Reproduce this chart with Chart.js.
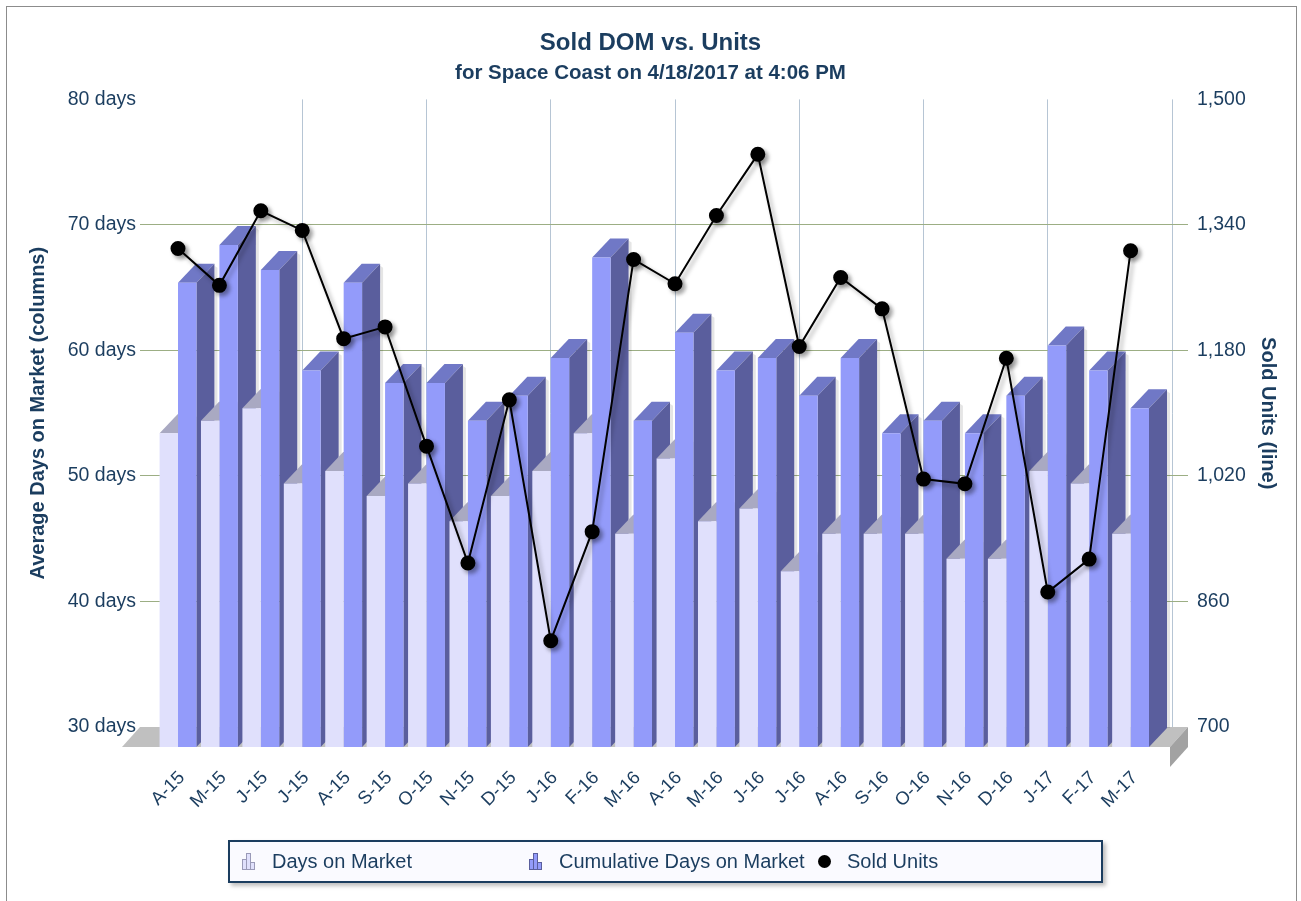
<!DOCTYPE html>
<html>
<head>
<meta charset="utf-8">
<title>Sold DOM vs. Units</title>
<script src="https://cdn.jsdelivr.net/npm/chart.js@4.4.1/dist/chart.umd.min.js"></script>
<style>
    body { margin: 0; background: #fff; font-family: "Liberation Sans", Arial, sans-serif; }
    #wrap { position: relative; width: 1301px; height: 901px; overflow: hidden; }
    #frame { position: absolute; left: 6px; top: 6px; width: 1289px; height: 920px; border: 1px solid #8c8c8c; }
    #chart { position: absolute; left: 0; top: 0; }
    #legend {
        position: absolute; left: 228px; top: 840px; width: 871px; height: 39px;
        border: 2px solid #1b3d5f; background: #fafaff;
        box-shadow: 3px 3px 4px rgba(0, 0, 0, 0.25);
    }
    .item { position: absolute; top: 0; height: 39px; line-height: 39px; font-size: 20px; color: #1b3d5f; white-space: nowrap; }
    .ico { display: inline-flex; align-items: flex-end; gap: 1px; height: 16px; vertical-align: -1px; }
    .ico i { display: block; width: 3px; }
    .dot { display: inline-block; width: 13px; height: 13px; border-radius: 50%; background: #000; vertical-align: 0; }
</style>
</head>
<body>
<div id="wrap">
    <div id="frame"></div>
    <canvas id="chart" width="1301" height="901"></canvas>
    <div id="legend"></div>
</div>
<script>
const categories = ['A-15', 'M-15', 'J-15', 'J-15', 'A-15', 'S-15', 'O-15', 'N-15', 'D-15', 'J-16', 'F-16', 'M-16',
    'A-16', 'M-16', 'J-16', 'J-16', 'A-16', 'S-16', 'O-16', 'N-16', 'D-16', 'J-17', 'F-17', 'M-17']
const daysOnMarket = [55, 56, 57, 51, 52, 50, 51, 48, 50, 52, 55, 47, 53, 48, 49, 44, 47, 47, 47, 45, 45, 52, 51, 47]
const cumulativeDays = [67, 70, 68, 60, 67, 59, 59, 56, 58, 61, 69, 56, 63, 60, 61, 58, 61, 55, 56, 55, 58, 62, 60, 57]
const soldUnits = [1310, 1263, 1358, 1333, 1195, 1210, 1058, 909, 1117, 810, 949, 1296, 1265, 1352, 1430, 1185,
    1273, 1233, 1016, 1010, 1170, 872, 914, 1307]

const daysAxis = { min: 30, max: 80, step: 10 }
const unitsAxis = { min: 700, max: 1500, step: 160 }

const NAVY = '#1b3d5f'
const GRID_H = '#9cae84'
const GRID_V = '#b6c5d4'
const FRONT = ['#e0e0fc', '#939bfa']
const TOP = ['#a9a9c2', '#7078c6']
const SIDE = ['#9d9db8', '#5a5e9d']
const BORDER = ['#9a9ab8', '#5a5e9d']

// 3d look: bars are drawn by chart.js as front faces, this adds the depth
const DEPTH_X = 18
const DEPTH_Y = 19
const FRONT_SHIFT = 1.6 // days, front plane sits ~20px below the back wall

function poly(ctx, pts) {
    ctx.beginPath()
    ctx.moveTo(pts[0][0], pts[0][1])
    for (let i = 1; i < pts.length; i++) ctx.lineTo(pts[i][0], pts[i][1])
    ctx.closePath()
    ctx.fill()
}

const depthPlugin = {
    id: 'depth',
    beforeDatasetsDraw(chart) {
        const ctx = chart.ctx
        const area = chart.chartArea
        const back = chart.scales.y.getPixelForValue(daysAxis.min)
        const front = chart.scales.yb.getPixelForValue(daysAxis.min)
        const left = area.left - 38
        const right = area.right + 16
        ctx.save()
        // floor
        ctx.fillStyle = '#c0c0c0'
        poly(ctx, [[left, back], [right, back], [right - DEPTH_X, front], [left - DEPTH_X, front]])
        ctx.fillStyle = '#a2a2a2'
        poly(ctx, [[right - DEPTH_X, front], [right, back], [right, back + 20], [right - DEPTH_X, front + 20]])

        const metas = [chart.getDatasetMeta(0), chart.getDatasetMeta(1)]
        for (let i = 0; i < categories.length; i++) {
            metas.forEach((meta, k) => {
                const bar = meta.data[i]
                const l = bar.x - bar.width / 2
                const r = bar.x + bar.width / 2
                ctx.fillStyle = 'rgba(0,0,0,0.10)'
                poly(ctx, [[r + DEPTH_X, bar.y - DEPTH_Y + 2], [r + DEPTH_X + 3, bar.y - DEPTH_Y + 4],
                    [r + DEPTH_X + 3, bar.base - DEPTH_Y], [r + DEPTH_X, bar.base - DEPTH_Y]])
                ctx.fillStyle = TOP[k]
                poly(ctx, [[l, bar.y], [l + DEPTH_X, bar.y - DEPTH_Y], [r + DEPTH_X, bar.y - DEPTH_Y], [r, bar.y]])
                ctx.fillStyle = SIDE[k]
                poly(ctx, [[r, bar.y], [r + DEPTH_X, bar.y - DEPTH_Y], [r + DEPTH_X, bar.base - DEPTH_Y], [r, bar.base]])
            })
        }
        ctx.restore()
    },
    beforeDatasetDraw(chart, args) {
        if (args.index !== 2) return
        const ctx = chart.ctx
        ctx.save()
        ctx.shadowColor = 'rgba(0,0,0,0.35)'
        ctx.shadowOffsetX = 3
        ctx.shadowOffsetY = 3
        ctx.shadowBlur = 4
    },
    afterDatasetDraw(chart, args) {
        if (args.index === 2) chart.ctx.restore()
    }
}

const hideEnds = (ends, color) => (c) => ends.includes(c.tick.value) ? 'rgba(0,0,0,0)' : color

const chart = new Chart(document.getElementById('chart'), {
    type: 'bar',
    data: {
        datasets: [
            {
                label: 'Days on Market',
                data: daysOnMarket.map((v, i) => ({ x: i, y: v })),
                backgroundColor: FRONT[0],
                yAxisID: 'yb',
                base: daysAxis.min,
                clip: false,
                order: 1,
                categoryPercentage: 0.89,
                barPercentage: 1
            },
            {
                label: 'Cumulative Days on Market',
                data: cumulativeDays.map((v, i) => ({ x: i, y: v })),
                backgroundColor: FRONT[1],
                yAxisID: 'yb',
                base: daysAxis.min,
                clip: false,
                order: 2,
                categoryPercentage: 0.89,
                barPercentage: 1
            },
            {
                type: 'line',
                label: 'Sold Units',
                data: soldUnits.map((v, i) => ({ x: i, y: v })),
                yAxisID: 'y1',
                borderColor: '#000',
                borderWidth: 2,
                backgroundColor: '#000',
                pointBackgroundColor: '#000',
                pointBorderColor: '#000',
                pointRadius: 6.5,
                tension: 0,
                clip: false,
                order: 0
            }
        ]
    },
    options: {
        responsive: false,
        animation: false,
        layout: { padding: { left: 6, right: 6, top: 8, bottom: 0 } },
        plugins: {
            legend: { display: false },
            tooltip: { enabled: false },
            title: {
                display: true,
                text: 'Sold DOM vs. Units',
                color: NAVY,
                font: { size: 24, weight: 'bold' },
                padding: { top: 21, bottom: 0 }
            },
            subtitle: {
                display: true,
                text: 'for Space Coast on 4/18/2017 at 4:06 PM',
                color: NAVY,
                font: { size: 20.5, weight: 'bold' },
                padding: { top: 3, bottom: 14 }
            }
        },
        scales: {
            x: {
                type: 'linear',
                min: 0,
                max: categories.length,
                offset: false,
                border: { display: false },
                grid: {
                    offset: false,
                    drawTicks: false,
                    color: (c) => (c.tick.value > 0 && c.tick.value % 3 === 0) ? GRID_V : 'rgba(0,0,0,0)'
                },
                ticks: {
                    stepSize: 1,
                    autoSkip: false,
                    maxTicksLimit: 40,
                    minRotation: 45,
                    maxRotation: 45,
                    padding: 40,
                    labelOffset: 4,
                    color: NAVY,
                    font: { size: 18.5 },
                    callback: (v) => categories[v] ?? ''
                },
                afterFit: (s) => { s.height = 174 }
            },
            y: {
                position: 'left',
                min: daysAxis.min,
                max: daysAxis.max,
                border: { display: false },
                grid: { color: hideEnds([daysAxis.min, daysAxis.max], GRID_H), tickLength: 38 },
                ticks: {
                    stepSize: daysAxis.step,
                    padding: 4,
                    color: NAVY,
                    font: { size: 19.5 },
                    callback: (v) => v + ' days'
                },
                title: {
                    display: true,
                    text: 'Average Days on Market (columns)',
                    color: NAVY,
                    font: { size: 20, weight: 'bold' },
                    padding: { top: 20 }
                },
                afterFit: (s) => { s.width = 172 }
            },
            yb: {
                display: false,
                beginAtZero: false,
                min: daysAxis.min + FRONT_SHIFT,
                max: daysAxis.max + FRONT_SHIFT
            },
            y1: {
                position: 'right',
                min: unitsAxis.min,
                max: unitsAxis.max,
                border: { display: false },
                grid: {
                    drawOnChartArea: false,
                    color: hideEnds([unitsAxis.min, unitsAxis.max], GRID_H),
                    tickLength: 16
                },
                ticks: {
                    stepSize: unitsAxis.step,
                    padding: 9,
                    color: NAVY,
                    font: { size: 19.5 },
                    callback: (v) => v.toLocaleString('en-US')
                },
                title: {
                    display: true,
                    text: 'Sold Units (line)',
                    color: NAVY,
                    font: { size: 20, weight: 'bold' },
                    padding: { top: 15 }
                },
                afterFit: (s) => { s.width = 123 }
            }
        }
    },
    plugins: [depthPlugin]
})

// legend box, laid out like the original (fixed columns)
const legendEl = document.getElementById('legend')
const legendLeft = [13, 300, 588]
const icon = (k) => {
    if (k === 2) return '<span class="dot"></span>'
    const h = [9, 15, 6]
    return '<span class="ico">' + h.map((v) =>
        `<i style="height:${v}px;background:${FRONT[k]};outline:1px solid ${BORDER[k]}"></i>`).join('') + '</span>'
}
chart.data.datasets.forEach((ds, k) => {
    const item = document.createElement('div')
    item.className = 'item'
    item.style.left = legendLeft[k] + 'px'
    item.innerHTML = icon(k) + `<span style="margin-left:${k === 2 ? 16 : 18}px">${ds.label}</span>`
    legendEl.appendChild(item)
})
</script>
</body>
</html>
